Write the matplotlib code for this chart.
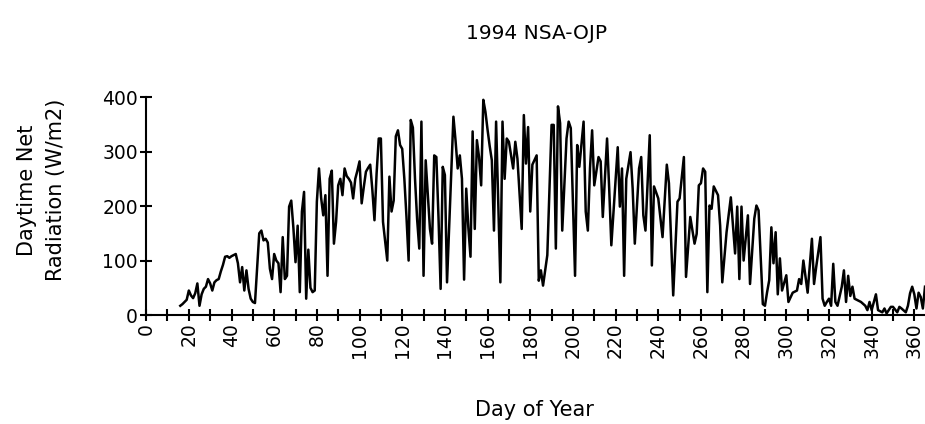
import matplotlib
matplotlib.use('Agg')
import matplotlib.pyplot as plt
from matplotlib.ticker import MultipleLocator

plt.rcParams['font.family'] = ['DejaVu Sans']

# daytime net radiation, NSA old jack pine site, 1994
days = [16, 17, 18, 19, 20, 21, 22, 23, 24, 25, 26, 27, 28, 29, 30, 31, 32, 33, 34, 35,
        36, 37, 38, 39, 40, 41, 42, 43, 44, 45, 46, 47, 48, 49, 50, 51, 53, 54, 55, 56,
        57, 58, 59, 60, 61, 62, 63, 64, 65, 66, 67, 68, 69, 70, 71, 72, 73, 74, 75, 76,
        77, 78, 79, 80, 81, 82, 83, 84, 85, 86, 87, 88, 89, 90, 91, 92, 93, 94, 95, 96,
        97, 98, 99, 100, 101, 102, 103, 104, 105, 106, 107, 108, 109, 110, 111, 112, 113, 114, 115, 116,
        117, 118, 119, 120, 121, 122, 123, 124, 125, 126, 127, 128, 129, 130, 131, 132, 133, 134, 135, 136,
        137, 138, 139, 140, 141, 144, 145, 146, 147, 148, 149, 150, 151, 152, 153, 154, 155, 156, 157, 158,
        159, 160, 161, 162, 163, 164, 165, 166, 167, 168, 169, 170, 172, 173, 174, 176, 177, 178, 179, 180,
        181, 183, 184, 185, 186, 188, 190, 191, 192, 193, 194, 195, 197, 198, 199, 201, 202, 203, 205, 206,
        207, 208, 209, 210, 212, 213, 214, 216, 217, 218, 221, 222, 223, 224, 225, 227, 228, 229, 231, 232,
        233, 234, 236, 237, 238, 240, 242, 244, 245, 247, 249, 250, 252, 253, 255, 257, 258, 259, 260, 261,
        262, 263, 264, 265, 266, 268, 269, 270, 272, 274, 276, 277, 278, 279, 280, 282, 283, 285, 286, 287,
        289, 290, 291, 292, 293, 294, 295, 296, 297, 298, 300, 301, 303, 305, 306, 307, 308, 310, 311, 312,
        313, 314, 316, 317, 318, 319, 320, 321, 322, 323, 324, 326, 327, 328, 329, 330, 331, 332, 335, 337,
        338, 339, 340, 342, 343, 345, 346, 347, 349, 350, 352, 353, 354, 356, 357, 358, 359, 360, 361, 362,
        363, 364, 365]

net_rad = [17, 20, 24, 28, 45, 36, 31, 40, 58, 17, 38, 48, 52, 66, 58, 45, 60, 64, 66, 80,
           92, 107, 108, 105, 108, 110, 112, 95, 60, 88, 45, 82, 48, 30, 24, 22, 150, 155, 137, 140,
           133, 85, 66, 112, 100, 95, 42, 143, 66, 72, 199, 210, 160, 97, 164, 42, 190, 226, 30, 120,
           50, 42, 45, 208, 269, 215, 183, 220, 72, 250, 265, 131, 171, 238, 250, 220, 269, 255, 250, 243,
           214, 250, 265, 282, 205, 235, 263, 270, 276, 230, 174, 260, 324, 324, 171, 135, 100, 254, 190, 210,
           328, 339, 312, 305, 250, 180, 100, 358, 344, 250, 175, 122, 355, 72, 284, 220, 158, 131, 293, 290,
           180, 48, 272, 257, 60, 364, 320, 269, 293, 250, 65, 232, 160, 107, 337, 158, 321, 290, 238, 395,
           373, 340, 310, 284, 155, 355, 210, 60, 355, 250, 324, 318, 269, 318, 287, 158, 367, 278, 345, 190,
           276, 293, 63, 82, 54, 110, 349, 349, 122, 383, 352, 155, 324, 355, 343, 72, 312, 272, 355, 190,
           155, 269, 339, 238, 290, 282, 180, 324, 232, 128, 308, 199, 269, 72, 250, 299, 232, 131, 269, 290,
           183, 155, 330, 91, 236, 214, 143, 276, 242, 36, 208, 214, 290, 70, 180, 131, 149, 238, 242, 269,
           263, 42, 201, 195, 236, 220, 164, 60, 152, 216, 113, 199, 66, 199, 100, 183, 57, 177, 201, 192,
           20, 17, 42, 64, 161, 95, 152, 38, 104, 45, 73, 24, 41, 45, 66, 57, 100, 41, 91, 140,
           57, 88, 143, 30, 17, 24, 30, 17, 94, 24, 17, 52, 82, 24, 72, 35, 52, 30, 24, 17,
           9, 24, 9, 38, 9, 5, 12, 3, 15, 15, 5, 15, 12, 5, 17, 40, 52, 38, 12, 41,
           33, 12, 52]

fig = plt.figure(figsize=(9.25, 4.24), dpi=100)
ax = fig.add_axes([0.158, 0.257, 0.842, 0.514])

ax.plot(days, net_rad, color='black', lw=1.8, clip_on=False)

ax.set_xlim(0, 365)
ax.set_ylim(0, 400)
ax.xaxis.set_major_locator(MultipleLocator(20))
ax.xaxis.set_minor_locator(MultipleLocator(10))
ax.yaxis.set_major_locator(MultipleLocator(100))

for side in ['top', 'right']:
    ax.spines[side].set_visible(False)
for side in ['left', 'bottom']:
    ax.spines[side].set_linewidth(1.5)

ax.tick_params(axis='x', which='both', direction='inout', length=9, width=1.5, labelsize=13.5,
               labelrotation=90, pad=1)
ax.tick_params(axis='y', which='major', direction='inout', length=8, width=1.5, labelsize=13.5, pad=2)

# titles placed in figure coordinates
fig.text(0.58, 0.922, '1994 NSA-OJP', fontsize=14.5, ha='center', va='center')
fig.text(0.578, 0.033, 'Day of Year', fontsize=15, ha='center', va='center')
fig.text(0.045, 0.552, 'Daytime Net\nRadiation (W/m2)', fontsize=15, ha='center', va='center',
         rotation=90, linespacing=1.55, multialignment='center')

fig.savefig('out.png', dpi=100)
